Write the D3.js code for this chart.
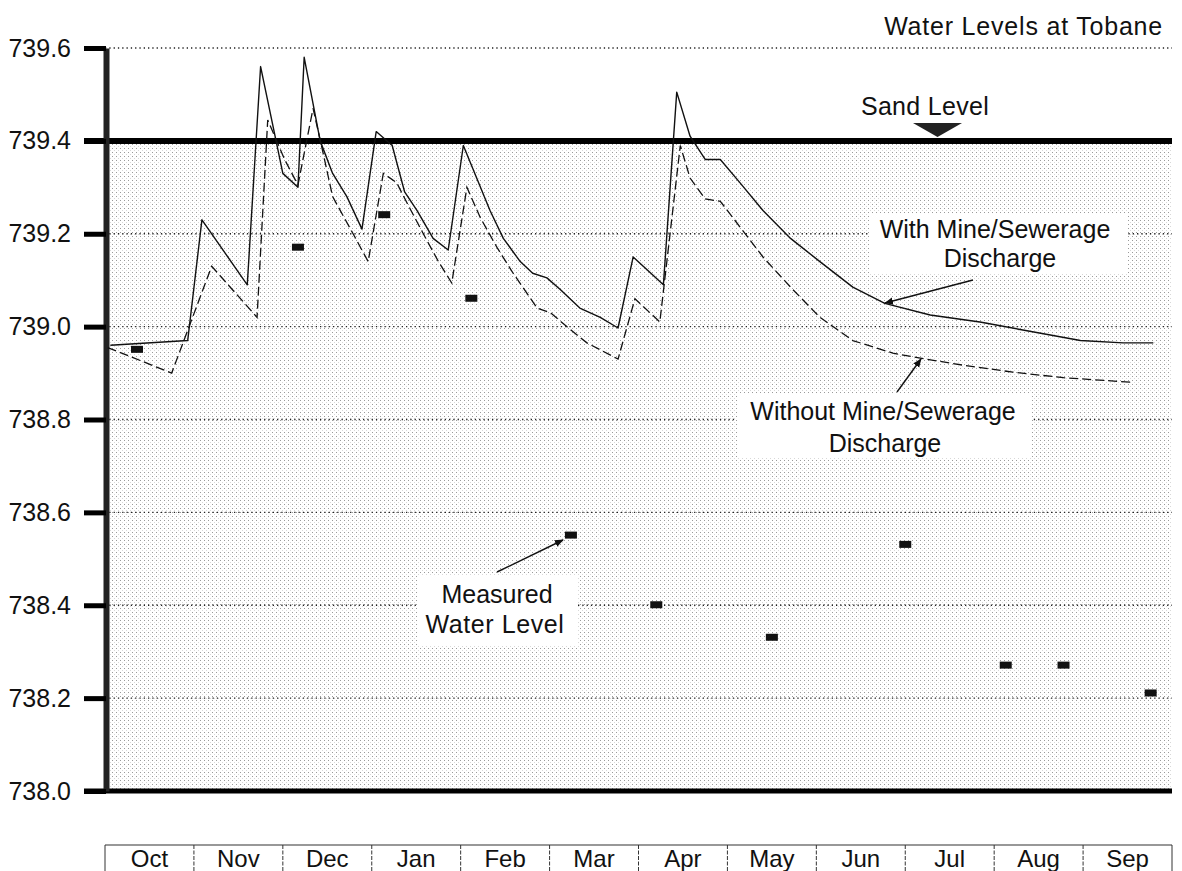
<!DOCTYPE html>
<html>
<head>
<meta charset="utf-8">
<script src="https://cdn.jsdelivr.net/npm/d3@7"></script>
<style>
  body { margin: 0; background: #fff; }
  svg text { font-family: "Liberation Sans", Arial, sans-serif; fill: #111; }
</style>
</head>
<body>
<div id="chart"></div>
<script>
// month index (0 = start of Oct) and water level (m)
const months = ["Oct","Nov","Dec","Jan","Feb","Mar","Apr","May","Jun","Jul","Aug","Sep"];
const yTicks = [738.0, 738.2, 738.4, 738.6, 738.8, 739.0, 739.2, 739.4, 739.6];
const sandLevel = 739.4;

const withT = [0.06,0.93,1.09,1.60,1.75,2.00,2.17,2.24,2.42,2.56,2.72,2.89,3.05,3.23,3.37,3.51,3.69,3.86,4.03,4.18,4.33,4.48,4.67,4.81,4.97,5.12,5.34,5.57,5.77,5.94,6.28,6.43,6.58,6.75,6.92,7.14,7.40,7.71,8.04,8.41,8.77,9.28,9.84,10.40,10.97,11.45,11.79];
const withV = [738.96,738.97,739.23,739.09,739.56,739.33,739.30,739.58,739.40,739.33,739.28,739.21,739.42,739.39,739.29,739.25,739.19,739.165,739.39,739.32,739.25,739.19,739.14,739.115,739.105,739.08,739.04,739.02,738.997,739.15,739.09,739.505,739.41,739.36,739.36,739.31,739.25,739.19,739.14,739.085,739.05,739.025,739.01,738.99,738.97,738.965,738.965];

const withoutT = [0.03,0.75,1.20,1.71,1.83,2.02,2.17,2.34,2.44,2.56,2.79,2.96,3.13,3.28,3.40,3.58,3.75,3.90,4.07,4.22,4.41,4.59,4.86,5.01,5.20,5.42,5.77,5.96,6.24,6.47,6.58,6.75,6.92,7.14,7.40,7.71,8.04,8.41,8.86,9.17,9.65,10.21,10.78,11.56];
const withoutV = [738.955,738.90,739.13,739.02,739.445,739.36,739.305,739.47,739.385,739.28,739.20,739.14,739.33,739.31,739.265,739.20,739.14,739.094,739.30,739.235,739.17,739.115,739.04,739.03,738.999,738.965,738.93,739.06,739.01,739.39,739.32,739.275,739.27,739.215,739.15,739.085,739.02,738.97,738.943,738.932,738.917,738.902,738.89,738.88];

const measT = [0.36,2.17,3.14,4.12,5.24,6.20,7.50,9.00,10.13,10.78,11.76];
const measV = [738.95,739.17,739.24,739.06,738.55,738.40,738.33,738.53,738.27,738.27,738.21];

const width = 1182, height = 871;
const x = d3.scaleLinear().domain([0, 12]).range([105, 1172]);
const y = d3.scaleLinear().domain([738, 739.6]).range([791, 48]);

const svg = d3.select("#chart").append("svg")
    .attr("width", width)
    .attr("height", height);

const defs = svg.append("defs");
const pat = defs.append("pattern")
    .attr("id", "stipple")
    .attr("patternUnits", "userSpaceOnUse")
    .attr("width", 4).attr("height", 4);
pat.append("rect").attr("width", 4).attr("height", 4).attr("fill", "#fff");
pat.append("rect").attr("x", 0).attr("y", 0).attr("width", 1).attr("height", 1).attr("fill", "#9a9a9a");
pat.append("rect").attr("x", 2).attr("y", 2).attr("width", 1).attr("height", 1).attr("fill", "#d8d8d8");

defs.append("marker")
    .attr("id", "arrow")
    .attr("viewBox", "0 0 10 10")
    .attr("refX", 9).attr("refY", 5)
    .attr("markerWidth", 9).attr("markerHeight", 9)
    .attr("markerUnits", "userSpaceOnUse")
    .attr("orient", "auto")
  .append("path")
    .attr("d", "M0,1L10,5L0,9Z")
    .attr("fill", "#111");

// shaded area below sand level
svg.append("rect")
    .attr("x", x(0)).attr("y", y(sandLevel))
    .attr("width", x(12) - x(0)).attr("height", y(738) - y(sandLevel))
    .attr("fill", "url(#stipple)");

// dotted gridlines
svg.append("g")
    .selectAll("line")
    .data(yTicks.filter(d => d !== 738.0 && d !== sandLevel))
    .join("line")
      .attr("x1", x(0)).attr("x2", x(12))
      .attr("y1", d => y(d)).attr("y2", d => y(d))
      .attr("stroke", "#222")
      .attr("stroke-width", 1.3)
      .attr("stroke-dasharray", "1.3,3");

// label knock-out boxes
const boxes = [
  {x: 870, y: 213, w: 258, h: 60},
  {x: 737, y: 394, w: 295, h: 64},
  {x: 417, y: 576, w: 160, h: 70}
];
svg.append("g").selectAll("rect").data(boxes).join("rect")
    .attr("x", d => d.x).attr("y", d => d.y)
    .attr("width", d => d.w).attr("height", d => d.h)
    .attr("fill", "#fff");

// sand level and base line
svg.append("line")
    .attr("x1", 84).attr("x2", x(12))
    .attr("y1", y(sandLevel)).attr("y2", y(sandLevel))
    .attr("stroke", "#000").attr("stroke-width", 6);
svg.append("line")
    .attr("x1", 84).attr("x2", x(12))
    .attr("y1", y(738)).attr("y2", y(738))
    .attr("stroke", "#000").attr("stroke-width", 5);

// y axis
const yAxis = svg.append("g")
    .attr("transform", "translate(106,0)")
    .call(d3.axisLeft(y).tickValues(yTicks).tickSize(22).tickSizeOuter(0)
      .tickPadding(13).tickFormat(d3.format(".1f")));
yAxis.select(".domain").attr("stroke", "#222").attr("stroke-width", 6);
yAxis.selectAll(".tick line").attr("stroke", "#000").attr("stroke-width", 5);
yAxis.selectAll(".tick text")
    .attr("font-size", 25)
    .attr("font-family", "Liberation Sans, Arial, sans-serif")
    .attr("fill", "#111");

// series
const line = d3.line().x(d => x(d[0])).y(d => y(d[1]));
svg.append("path")
    .datum(d3.zip(withT, withV))
    .attr("d", line)
    .attr("fill", "none")
    .attr("stroke", "#111")
    .attr("stroke-width", 1.4)
    .attr("stroke-linejoin", "round");
svg.append("path")
    .datum(d3.zip(withoutT, withoutV))
    .attr("d", line)
    .attr("fill", "none")
    .attr("stroke", "#111")
    .attr("stroke-width", 1.3)
    .attr("stroke-dasharray", "9,4");

svg.append("g").selectAll("rect")
    .data(d3.zip(measT, measV))
    .join("rect")
      .attr("x", d => x(d[0]) - 6).attr("y", d => y(d[1]) - 4)
      .attr("width", 12).attr("height", 7)
      .attr("fill", "#111");

// sand level marker
svg.append("path")
    .attr("d", d3.line()([[913, 123], [962, 123], [937.5, 137]]) + "Z")
    .attr("fill", "#222");

// annotations
const texts = [
  {t: "Water Levels at Tobane", x: 1163, y: 35, a: "end", ls: 0.8},
  {t: "Sand Level", x: 925, y: 115, a: "middle", ls: 0.3},
  {t: "With Mine/Sewerage", x: 995, y: 238, a: "middle", ls: 0},
  {t: "Discharge", x: 1000, y: 267, a: "middle", ls: 0},
  {t: "Without Mine/Sewerage", x: 883, y: 420, a: "middle", ls: 0},
  {t: "Discharge", x: 885, y: 452, a: "middle", ls: 0},
  {t: "Measured", x: 497, y: 603, a: "middle", ls: 0},
  {t: "Water Level", x: 495, y: 633, a: "middle", ls: 0.6}
];
svg.append("g").selectAll("text").data(texts).join("text")
    .attr("x", d => d.x).attr("y", d => d.y)
    .attr("text-anchor", d => d.a)
    .attr("letter-spacing", d => d.ls)
    .attr("font-size", 25)
    .text(d => d.t);

const arrows = [
  [[973, 280], [885, 303]],
  [[897, 392], [921, 359]],
  [[497, 572], [563, 540]]
];
svg.append("g").selectAll("path").data(arrows).join("path")
    .attr("d", d => d3.line()(d))
    .attr("stroke", "#111")
    .attr("stroke-width", 1.4)
    .attr("marker-end", "url(#arrow)");

// month strip
const strip = svg.append("g");
strip.append("line")
    .attr("x1", x(0)).attr("x2", x(12))
    .attr("y1", 845).attr("y2", 845)
    .attr("stroke", "#333").attr("stroke-width", 1.2);
strip.selectAll(".sep")
    .data(d3.range(13))
    .join("line")
      .attr("class", "sep")
      .attr("x1", d => x(d)).attr("x2", d => x(d))
      .attr("y1", 845).attr("y2", 871)
      .attr("stroke", "#333")
      .attr("stroke-width", 1)
      .attr("stroke-dasharray", d => (d === 0 || d === 12) ? null : "4,1.5");
strip.selectAll("text")
    .data(months)
    .join("text")
      .attr("x", (d, i) => x(i + 0.5))
      .attr("y", 867)
      .attr("text-anchor", "middle")
      .attr("font-size", 24)
      .text(d => d);
</script>
</body>
</html>
